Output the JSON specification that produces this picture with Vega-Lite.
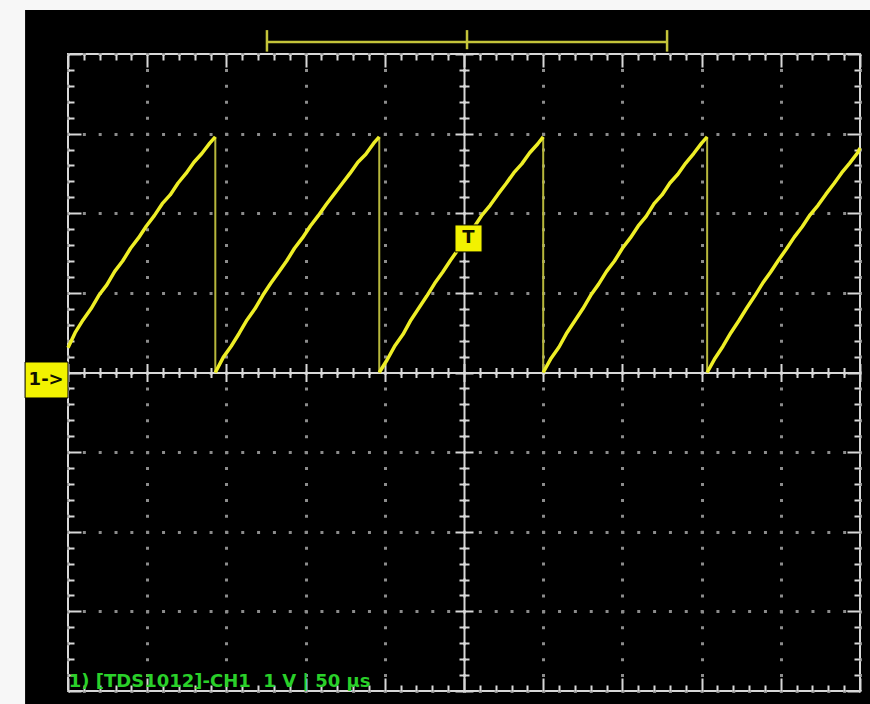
{
  "$schema": "https://vega.github.io/schema/vega-lite/v6.json",
  "width": 792,
  "height": 637,
  "autosize": {"type": "none"},
  "padding": {"left": 68, "top": 54, "right": 10, "bottom": 13},
  "background": "#000000",
  "view": {"stroke": "#d8d8d8", "strokeWidth": 2},
  "datasets": {
    "margins": [
      {"x1": -300, "x2": -277.1, "y1": -5, "y2": 5},
      {"x1": -300, "x2": 300, "y1": 4.554, "y2": 5}
    ],
    "trace": [
      {"c": 0, "t": -250, "v": 0.31}, {"c": 0, "t": -245.5, "v": 0.5}, {"c": 0, "t": -240.5, "v": 0.66}, {"c": 0, "t": -235.5, "v": 0.8}, {"c": 0, "t": -230.5, "v": 0.97}, {"c": 0, "t": -225.5, "v": 1.1}, {"c": 0, "t": -220.5, "v": 1.27}, {"c": 0, "t": -215.5, "v": 1.4}, {"c": 0, "t": -210.5, "v": 1.56}, {"c": 0, "t": -205.5, "v": 1.69}, {"c": 0, "t": -200.5, "v": 1.84}, {"c": 0, "t": -195.5, "v": 1.97}, {"c": 0, "t": -190.5, "v": 2.12}, {"c": 0, "t": -185.5, "v": 2.23}, {"c": 0, "t": -180.5, "v": 2.38}, {"c": 0, "t": -175.5, "v": 2.5}, {"c": 0, "t": -170.5, "v": 2.64}, {"c": 0, "t": -165.5, "v": 2.75}, {"c": 0, "t": -160.5, "v": 2.88}, {"c": 0, "t": -157, "v": 2.96},
      {"c": 1, "t": -157, "v": 0.0}, {"c": 1, "t": -152, "v": 0.19}, {"c": 1, "t": -147, "v": 0.33}, {"c": 1, "t": -142, "v": 0.49}, {"c": 1, "t": -137, "v": 0.66}, {"c": 1, "t": -132, "v": 0.8}, {"c": 1, "t": -127, "v": 0.97}, {"c": 1, "t": -122, "v": 1.12}, {"c": 1, "t": -117, "v": 1.26}, {"c": 1, "t": -112, "v": 1.4}, {"c": 1, "t": -107, "v": 1.56}, {"c": 1, "t": -102, "v": 1.69}, {"c": 1, "t": -97, "v": 1.84}, {"c": 1, "t": -92, "v": 1.97}, {"c": 1, "t": -87, "v": 2.11}, {"c": 1, "t": -82, "v": 2.24}, {"c": 1, "t": -77, "v": 2.37}, {"c": 1, "t": -72, "v": 2.5}, {"c": 1, "t": -67, "v": 2.64}, {"c": 1, "t": -62, "v": 2.74}, {"c": 1, "t": -57, "v": 2.88}, {"c": 1, "t": -53.5, "v": 2.96},
      {"c": 2, "t": -53.5, "v": 0.0}, {"c": 2, "t": -48.5, "v": 0.16}, {"c": 2, "t": -43.5, "v": 0.34}, {"c": 2, "t": -38.5, "v": 0.48}, {"c": 2, "t": -33.5, "v": 0.66}, {"c": 2, "t": -28.5, "v": 0.81}, {"c": 2, "t": -23.5, "v": 0.96}, {"c": 2, "t": -18.5, "v": 1.12}, {"c": 2, "t": -13.5, "v": 1.26}, {"c": 2, "t": -8.5, "v": 1.41}, {"c": 2, "t": -3.5, "v": 1.55}, {"c": 2, "t": 1.5, "v": 1.7}, {"c": 2, "t": 6.5, "v": 1.83}, {"c": 2, "t": 11.5, "v": 1.98}, {"c": 2, "t": 16.5, "v": 2.1}, {"c": 2, "t": 21.5, "v": 2.24}, {"c": 2, "t": 26.5, "v": 2.37}, {"c": 2, "t": 31.5, "v": 2.51}, {"c": 2, "t": 36.5, "v": 2.62}, {"c": 2, "t": 41.5, "v": 2.76}, {"c": 2, "t": 46.5, "v": 2.87}, {"c": 2, "t": 50, "v": 2.96},
      {"c": 3, "t": 50, "v": 0.0}, {"c": 3, "t": 55, "v": 0.18}, {"c": 3, "t": 60, "v": 0.32}, {"c": 3, "t": 65, "v": 0.5}, {"c": 3, "t": 70, "v": 0.65}, {"c": 3, "t": 75, "v": 0.8}, {"c": 3, "t": 80, "v": 0.97}, {"c": 3, "t": 85, "v": 1.11}, {"c": 3, "t": 90, "v": 1.27}, {"c": 3, "t": 95, "v": 1.4}, {"c": 3, "t": 100, "v": 1.56}, {"c": 3, "t": 105, "v": 1.69}, {"c": 3, "t": 110, "v": 1.84}, {"c": 3, "t": 115, "v": 1.96}, {"c": 3, "t": 120, "v": 2.12}, {"c": 3, "t": 125, "v": 2.23}, {"c": 3, "t": 130, "v": 2.38}, {"c": 3, "t": 135, "v": 2.49}, {"c": 3, "t": 140, "v": 2.63}, {"c": 3, "t": 145, "v": 2.75}, {"c": 3, "t": 150, "v": 2.88}, {"c": 3, "t": 153.5, "v": 2.96},
      {"c": 4, "t": 153.5, "v": 0.0}, {"c": 4, "t": 158.5, "v": 0.18}, {"c": 4, "t": 163.5, "v": 0.33}, {"c": 4, "t": 168.5, "v": 0.5}, {"c": 4, "t": 173.5, "v": 0.65}, {"c": 4, "t": 178.5, "v": 0.81}, {"c": 4, "t": 183.5, "v": 0.96}, {"c": 4, "t": 188.5, "v": 1.12}, {"c": 4, "t": 193.5, "v": 1.26}, {"c": 4, "t": 198.5, "v": 1.41}, {"c": 4, "t": 203.5, "v": 1.55}, {"c": 4, "t": 208.5, "v": 1.7}, {"c": 4, "t": 213.5, "v": 1.83}, {"c": 4, "t": 218.5, "v": 1.98}, {"c": 4, "t": 223.5, "v": 2.1}, {"c": 4, "t": 228.5, "v": 2.24}, {"c": 4, "t": 233.5, "v": 2.37}, {"c": 4, "t": 238.5, "v": 2.51}, {"c": 4, "t": 243.5, "v": 2.63}, {"c": 4, "t": 248.5, "v": 2.76}, {"c": 4, "t": 250, "v": 2.82}
    ],
    "drops": [
      {"t": -157, "v0": 0, "v1": 2.96},
      {"t": -53.5, "v0": 0, "v1": 2.96},
      {"t": 50, "v0": 0, "v1": 2.96},
      {"t": 153.5, "v0": 0, "v1": 2.96}
    ],
    "boxes": [
      {"name": "ch1", "x1": -277.1, "x2": -250, "y1": 0.132, "y2": -0.32},
      {"name": "trig", "x1": -5.7, "x2": 11.4, "y1": 1.853, "y2": 1.514}
    ],
    "marks": [
      {"t": -263.8, "v": -0.094, "label": "1->"},
      {"t": 2.8, "v": 1.684, "label": "T"}
    ],
    "footer": [
      {"t": -249.5, "v": -3.95, "label": "1) [TDS1012]-CH1\u00a0\u00a01\u00a0V\u00a0|\u00a050\u00a0µs"}
    ],
    "bracket": [
      {"t1": -124.4, "t2": 128.2, "v1": 4.15, "v2": 4.15},
      {"t1": -124.4, "t2": -124.4, "v1": 4.03, "v2": 4.3},
      {"t1": 128.2, "t2": 128.2, "v1": 4.03, "v2": 4.3},
      {"t1": 1.9, "t2": 1.9, "v1": 4.06, "v2": 4.3}
    ]
  },
  "resolve": {
    "scale": {"x": "shared", "y": "shared"},
    "axis": {"x": "independent", "y": "independent"}
  },
  "layer": [
    {
      "data": {"name": "margins"},
      "mark": {"type": "rect", "fill": "#f7f7f7"},
      "encoding": {
        "x": {"field": "x1", "type": "quantitative", "scale": {"domain": [-250, 250], "nice": false, "zero": false},
          "axis": {"orient": "bottom", "values": [-250,-240,-230,-220,-210,-200,-190,-180,-170,-160,-150,-140,-130,-120,-110,-100,-90,-80,-70,-60,-50,-40,-30,-20,-10,0,10,20,30,40,50,60,70,80,90,100,110,120,130,140,150,160,170,180,190,200,210,220,230,240,250],
            "labels": false, "title": null, "domain": false, "tickColor": "#d8d8d8", "tickWidth": 2,
            "tickSize": {"condition": {"test": "abs(datum.value % 50) < 0.01", "value": -13}, "value": -6},
            "grid": true, "gridColor": "#8c8c8c", "gridWidth": 3, "gridDash": [3, 12.925], "gridDashOffset": 1.5,
            "gridOpacity": {"condition": {"test": "abs(datum.value % 50) < 0.01", "value": 1}, "value": 0}}},
        "x2": {"field": "x2"},
        "y": {"field": "y1", "type": "quantitative", "scale": {"domain": [-4, 4], "nice": false, "zero": false},
          "axis": {"orient": "left", "values": [-4,-3.8,-3.6,-3.4,-3.2,-3,-2.8,-2.6,-2.4,-2.2,-2,-1.8,-1.6,-1.4,-1.2,-1,-0.8,-0.6,-0.4,-0.2,0,0.2,0.4,0.6,0.8,1,1.2,1.4,1.6,1.8,2,2.2,2.4,2.6,2.8,3,3.2,3.4,3.6,3.8,4],
            "labels": false, "title": null, "domain": false, "tickColor": "#d8d8d8", "tickWidth": 2,
            "tickSize": {"condition": {"test": "abs(datum.value - round(datum.value)) < 0.01", "value": -13}, "value": -6},
            "grid": true, "gridColor": "#8c8c8c", "gridWidth": 3, "gridDash": [3, 12.84], "gridDashOffset": 1.5,
            "gridOpacity": {"condition": {"test": "abs(datum.value - round(datum.value)) < 0.01", "value": 1}, "value": 0}}},
        "y2": {"field": "y2"}
      }
    },
    {
      "data": {"name": "drops"},
      "mark": {"type": "rule", "stroke": "#b8b83c", "strokeWidth": 2},
      "encoding": {
        "x": {"field": "t", "type": "quantitative", "scale": {"domain": [-250, 250], "nice": false, "zero": false},
          "axis": {"orient": "bottom", "offset": -318.5, "values": [-250,-240,-230,-220,-210,-200,-190,-180,-170,-160,-150,-140,-130,-120,-110,-100,-90,-80,-70,-60,-50,-40,-30,-20,-10,0,10,20,30,40,50,60,70,80,90,100,110,120,130,140,150,160,170,180,190,200,210,220,230,240,250],
            "labels": false, "title": null, "domain": true, "domainColor": "#d8d8d8", "domainWidth": 2, "tickColor": "#d8d8d8", "tickWidth": 2,
            "tickSize": {"condition": {"test": "abs(datum.value % 50) < 0.01", "value": 9}, "value": 5}, "grid": false}},
        "y": {"field": "v0", "type": "quantitative", "scale": {"domain": [-4, 4], "nice": false, "zero": false},
          "axis": {"orient": "left", "offset": -396, "values": [-4,-3.8,-3.6,-3.4,-3.2,-3,-2.8,-2.6,-2.4,-2.2,-2,-1.8,-1.6,-1.4,-1.2,-1,-0.8,-0.6,-0.4,-0.2,0,0.2,0.4,0.6,0.8,1,1.2,1.4,1.6,1.8,2,2.2,2.4,2.6,2.8,3,3.2,3.4,3.6,3.8,4],
            "labels": false, "title": null, "domain": true, "domainColor": "#d8d8d8", "domainWidth": 2, "tickColor": "#d8d8d8", "tickWidth": 2,
            "tickSize": {"condition": {"test": "abs(datum.value - round(datum.value)) < 0.01", "value": 9}, "value": 5}, "grid": false}},
        "y2": {"field": "v1"}
      }
    },
    {
      "data": {"name": "trace"},
      "mark": {"type": "line", "stroke": "#eeee26", "strokeWidth": 3.5, "strokeJoin": "round"},
      "encoding": {
        "x": {"field": "t", "type": "quantitative", "scale": {"domain": [-250, 250], "nice": false, "zero": false},
          "axis": {"orient": "top", "values": [-250,-240,-230,-220,-210,-200,-190,-180,-170,-160,-150,-140,-130,-120,-110,-100,-90,-80,-70,-60,-50,-40,-30,-20,-10,0,10,20,30,40,50,60,70,80,90,100,110,120,130,140,150,160,170,180,190,200,210,220,230,240,250],
            "labels": false, "title": null, "domain": false, "tickColor": "#d8d8d8", "tickWidth": 2,
            "tickSize": {"condition": {"test": "abs(datum.value % 50) < 0.01", "value": -13}, "value": -6}, "grid": false}},
        "y": {"field": "v", "type": "quantitative", "scale": {"domain": [-4, 4], "nice": false, "zero": false},
          "axis": {"orient": "right", "values": [-4,-3.8,-3.6,-3.4,-3.2,-3,-2.8,-2.6,-2.4,-2.2,-2,-1.8,-1.6,-1.4,-1.2,-1,-0.8,-0.6,-0.4,-0.2,0,0.2,0.4,0.6,0.8,1,1.2,1.4,1.6,1.8,2,2.2,2.4,2.6,2.8,3,3.2,3.4,3.6,3.8,4],
            "labels": false, "title": null, "domain": false, "tickColor": "#d8d8d8", "tickWidth": 2,
            "tickSize": {"condition": {"test": "abs(datum.value - round(datum.value)) < 0.01", "value": -13}, "value": -6}, "grid": false}},
        "detail": {"field": "c", "type": "nominal"}
      }
    },
    {
      "data": {"name": "boxes"},
      "mark": {"type": "rect", "fill": "#f2f200", "stroke": "#000000", "strokeWidth": 1},
      "encoding": {
        "x": {"field": "x1", "type": "quantitative", "scale": {"domain": [-250, 250], "nice": false, "zero": false},
          "axis": {"orient": "bottom", "offset": -318.5, "values": [-250,-240,-230,-220,-210,-200,-190,-180,-170,-160,-150,-140,-130,-120,-110,-100,-90,-80,-70,-60,-50,-40,-30,-20,-10,0,10,20,30,40,50,60,70,80,90,100,110,120,130,140,150,160,170,180,190,200,210,220,230,240,250],
            "labels": false, "title": null, "domain": false, "tickColor": "#d8d8d8", "tickWidth": 2,
            "tickSize": {"condition": {"test": "abs(datum.value % 50) < 0.01", "value": -9}, "value": -5}, "grid": false}},
        "x2": {"field": "x2"},
        "y": {"field": "y1", "type": "quantitative", "scale": {"domain": [-4, 4], "nice": false, "zero": false},
          "axis": {"orient": "left", "offset": -396, "values": [-4,-3.8,-3.6,-3.4,-3.2,-3,-2.8,-2.6,-2.4,-2.2,-2,-1.8,-1.6,-1.4,-1.2,-1,-0.8,-0.6,-0.4,-0.2,0,0.2,0.4,0.6,0.8,1,1.2,1.4,1.6,1.8,2,2.2,2.4,2.6,2.8,3,3.2,3.4,3.6,3.8,4],
            "labels": false, "title": null, "domain": false, "tickColor": "#d8d8d8", "tickWidth": 2,
            "tickSize": {"condition": {"test": "abs(datum.value - round(datum.value)) < 0.01", "value": -9}, "value": -5}, "grid": false}},
        "y2": {"field": "y2"}
      }
    },
    {
      "data": {"name": "marks"},
      "mark": {"type": "text", "font": "DejaVu Sans", "fontWeight": "bold", "fontSize": 18, "color": "#111100", "align": "center", "baseline": "middle"},
      "encoding": {
        "x": {"field": "t", "type": "quantitative", "scale": {"domain": [-250, 250], "nice": false, "zero": false}, "axis": null},
        "y": {"field": "v", "type": "quantitative", "scale": {"domain": [-4, 4], "nice": false, "zero": false}, "axis": null},
        "text": {"field": "label"}
      }
    },
    {
      "data": {"name": "footer"},
      "mark": {"type": "text", "font": "DejaVu Sans", "fontWeight": "bold", "fontSize": 18, "color": "#2ad02a", "align": "left", "baseline": "alphabetic"},
      "encoding": {
        "x": {"field": "t", "type": "quantitative", "scale": {"domain": [-250, 250], "nice": false, "zero": false}, "axis": null},
        "y": {"field": "v", "type": "quantitative", "scale": {"domain": [-4, 4], "nice": false, "zero": false}, "axis": null},
        "text": {"field": "label"}
      }
    },
    {
      "data": {"name": "bracket"},
      "mark": {"type": "rule", "stroke": "#c4c43a", "strokeWidth": 2.5},
      "encoding": {
        "x": {"field": "t1", "type": "quantitative", "scale": {"domain": [-250, 250], "nice": false, "zero": false}, "axis": null},
        "x2": {"field": "t2"},
        "y": {"field": "v1", "type": "quantitative", "scale": {"domain": [-4, 4], "nice": false, "zero": false}, "axis": null},
        "y2": {"field": "v2"}
      }
    }
  ]
}
